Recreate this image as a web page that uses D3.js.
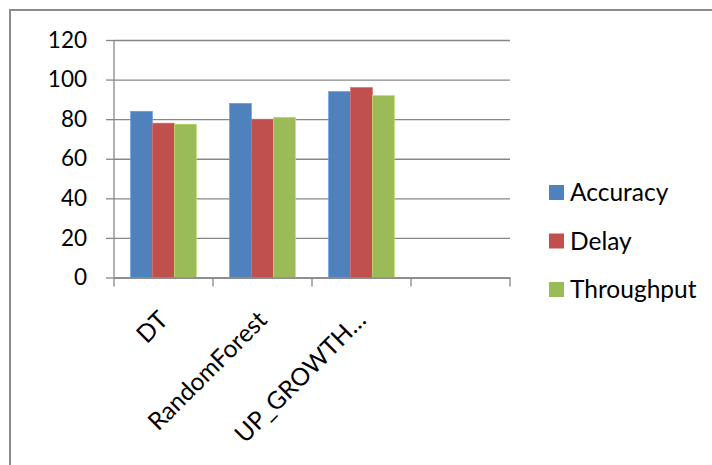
<!DOCTYPE html>
<html>
<head>
<meta charset="utf-8">
<script src="https://cdn.jsdelivr.net/npm/d3@7"></script>
<style>
  html, body { margin: 0; padding: 0; background: #fff; }
  svg { display: block; }
  text { font-family: Lato, "Open Sans", sans-serif; fill: #000; }
</style>
</head>
<body>
<svg id="chart" width="712" height="465"></svg>
<script>
const categories = ["DT", "RandomForest", "UP_GROWTH…", ""];
const seriesNames = ["Accuracy", "Delay", "Throughput"];
const accuracy = [84, 88, 94, null];
const delay = [78, 80, 96, null];
const throughput = [77.5, 81, 92, null];
const yTicks = [0, 20, 40, 60, 80, 100, 120];
const colors = ["#4F81BD", "#C0504D", "#9BBB59"];

const seriesValues = [accuracy, delay, throughput];

const svg = d3.select("#chart");
const W = 712, H = 465;

// outer chart border (only top and left visible)
svg.append("rect")
  .attr("x", 10).attr("y", 10)
  .attr("width", W + 20).attr("height", H + 20)
  .attr("fill", "none").attr("stroke", "#8c8c8c").attr("stroke-width", 2);

const plot = { left: 114, right: 510, top: 40, bottom: 277.5 };

const y = d3.scaleLinear().domain([0, 120]).range([plot.bottom, plot.top]);
const x = d3.scaleBand().domain(categories).range([plot.left, plot.right]).padding(0);
const xs = d3.scaleBand().domain(seriesNames).range([0, x.bandwidth()]).paddingInner(0).paddingOuter(0.75);

const gridColor = "#878787";

// gridlines + y ticks
const yAxis = d3.axisLeft(y).tickValues(yTicks).tickSize(-(plot.right - plot.left)).tickPadding(27).tickFormat(d3.format("d"));
const gy = svg.append("g").attr("transform", `translate(${plot.left},0)`).call(yAxis);
gy.select(".domain").remove();
gy.selectAll(".tick line").attr("stroke", gridColor).attr("stroke-width", 1.3);
gy.selectAll(".tick text").style("font-size", "22.5px").attr("fill", "#000");
gy.selectAll(".tick").append("line")
  .attr("x1", -8).attr("x2", 0).attr("stroke", gridColor).attr("stroke-width", 1.3);

// bars
seriesNames.forEach((s, si) => {
  svg.append("g").selectAll("rect")
    .data(categories.map((c, i) => ({ c, v: seriesValues[si][i] })).filter(d => d.v != null))
    .join("rect")
    .attr("x", d => x(d.c) + xs(s))
    .attr("y", d => y(d.v))
    .attr("width", xs.bandwidth())
    .attr("height", d => y(0) - y(d.v))
    .attr("fill", colors[si])
    .attr("stroke", d3.color(colors[si]).brighter(0.6))
    .attr("stroke-width", 0.6);
});

// y axis line
svg.append("line")
  .attr("x1", plot.left).attr("x2", plot.left)
  .attr("y1", plot.top).attr("y2", plot.bottom)
  .attr("stroke", gridColor).attr("stroke-width", 1.3);

// x axis
const xAxis = d3.axisBottom(x).tickValues([]).tickSize(0);
const gx = svg.append("g").attr("transform", `translate(0,${plot.bottom})`).call(xAxis);
gx.select(".domain").attr("stroke", gridColor).attr("stroke-width", 1.3);
const boundaries = categories.map(c => x(c)).concat([plot.right]);
gx.selectAll("line.bt").data(boundaries).join("line")
  .attr("class", "bt")
  .attr("x1", d => d).attr("x2", d => d)
  .attr("y1", 0).attr("y2", 9)
  .attr("stroke", gridColor).attr("stroke-width", 1.3);

// rotated category labels
gx.selectAll("text.cl").data(categories.filter(c => c !== "")).join("text")
  .attr("class", "cl")
  .attr("transform", d => `translate(${x(d) + x.bandwidth() / 2},${38}) rotate(-45)`)
  .attr("text-anchor", "end")
  .attr("dy", "0.35em")
  .style("font-size", "24.5px")
  .text(d => d);

// legend
const legend = svg.append("g");
seriesNames.forEach((s, i) => {
  const ly = 185 + i * 48.5;
  legend.append("rect").attr("x", 549).attr("y", ly).attr("width", 15).attr("height", 15).attr("fill", colors[i]);
  legend.append("text").attr("x", 570).attr("y", ly + 7.5).attr("dy", "0.35em")
    .style("font-size", "24.5px").text(s);
});
</script>
</body>
</html>
